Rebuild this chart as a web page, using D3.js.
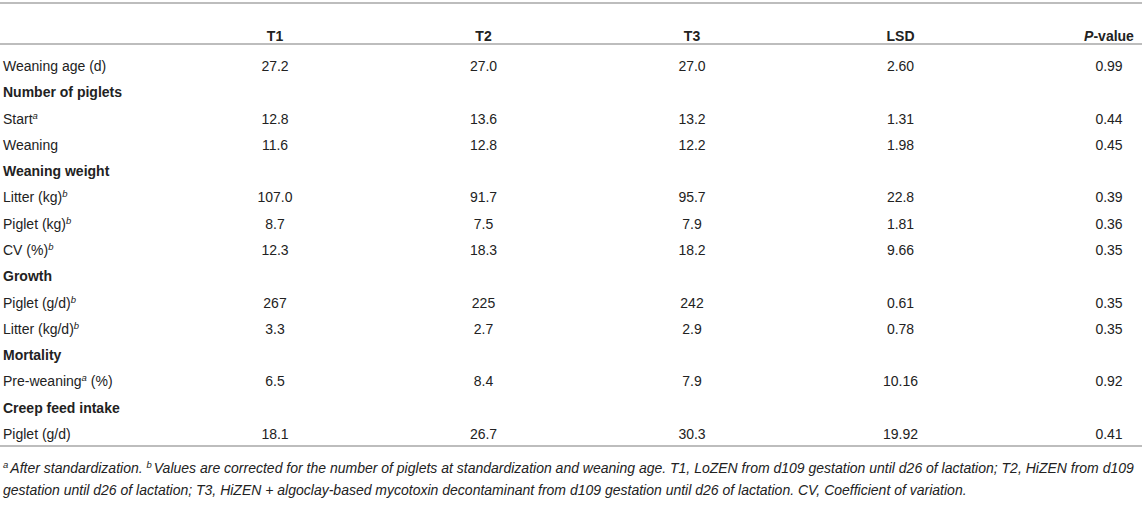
<!DOCTYPE html>
<html>
<head>
<meta charset="utf-8">
<script src="https://cdn.jsdelivr.net/npm/d3@7"></script>
<style>
  body { margin: 0; background: #fff; }
  svg { display: block; font-family: "Liberation Sans", Arial, Helvetica, sans-serif; }
</style>
</head>
<body>
<div id="table"></div>
<script>
// columns and rows of the table
const columns = ["T1", "T2", "T3", "LSD", "P-value"];
const rowLabels = [
  "Weaning age (d)", "Number of piglets", "Start^a", "Weaning",
  "Weaning weight", "Litter (kg)^b", "Piglet (kg)^b", "CV (%)^b",
  "Growth", "Piglet (g/d)^b", "Litter (kg/d)^b", "Mortality",
  "Pre-weaning^a (%)", "Creep feed intake", "Piglet (g/d)"
];
const groupRows = [false, true, false, false, true, false, false, false, true, false, false, true, false, true, false];

// values (null = group heading row)
const t1 = ["27.2", null, "12.8", "11.6", null, "107.0", "8.7", "12.3", null, "267", "3.3", null, "6.5", null, "18.1"];
const t2 = ["27.0", null, "13.6", "12.8", null, "91.7", "7.5", "18.3", null, "225", "2.7", null, "8.4", null, "26.7"];
const t3 = ["27.0", null, "13.2", "12.2", null, "95.7", "7.9", "18.2", null, "242", "2.9", null, "7.9", null, "30.3"];
const lsd = ["2.60", null, "1.31", "1.98", null, "22.8", "1.81", "9.66", null, "0.61", "0.78", null, "10.16", null, "19.92"];
const pValues = ["0.99", null, "0.44", "0.45", null, "0.39", "0.36", "0.35", null, "0.35", "0.35", null, "0.92", null, "0.41"];

const footnote1 = [["a", true], ["After standardization. ", false], ["b", true],
  ["Values are corrected for the number of piglets at standardization and weaning age. T1, LoZEN from d109 gestation until d26 of lactation; T2, HiZEN from d109", false]];
const footnote2 = [["gestation until d26 of lactation; T3, HiZEN + algoclay-based mycotoxin decontaminant from d109 gestation until d26 of lactation. CV, Coefficient of variation.", false]];

const width = 1142;
const height = 507;
const fontSize = 14;
const textColor = "#222";
const ruleColor = "#bdbdbd";

const svg = d3.select("#table")
  .append("svg")
    .attr("width", width)
    .attr("height", height);

svg.append("rect").attr("width", width).attr("height", height).attr("fill", "#fff");

// x positions of column centres
const x = d3.scalePoint()
  .domain(columns)
  .range([275, 1109]);

// y positions of rows (text baselines)
const y = d3.scaleLinear()
  .domain([0, rowLabels.length - 1])
  .range([71, 439]);

// horizontal rules
svg.selectAll("line.rule")
  .data([3, 44, 446])
  .enter()
  .append("line")
    .attr("class", "rule")
    .attr("x1", 0)
    .attr("x2", width)
    .attr("y1", d => d)
    .attr("y2", d => d)
    .attr("stroke", ruleColor)
    .attr("stroke-width", 2);

// header
const header = svg.selectAll("text.head")
  .data(columns)
  .enter()
  .append("text")
    .attr("class", "head")
    .attr("x", d => x(d))
    .attr("y", 41)
    .attr("text-anchor", "middle")
    .attr("font-size", fontSize)
    .attr("font-weight", "bold")
    .attr("fill", textColor);

header.each(function(d) {
  const t = d3.select(this);
  if (d === "P-value") {
    t.append("tspan").attr("font-style", "italic").text("P");
    t.append("tspan").text("-value");
  } else {
    t.text(d);
  }
});

// row labels, with ^x marking a superscript
svg.selectAll("text.label")
  .data(rowLabels)
  .enter()
  .append("text")
    .attr("class", "label")
    .attr("x", 3)
    .attr("y", (d, i) => y(i))
    .attr("font-size", fontSize)
    .attr("font-weight", (d, i) => groupRows[i] ? "bold" : "normal")
    .attr("fill", textColor)
    .each(function(d) {
      const t = d3.select(this);
      const m = d.match(/^([^^]*)(?:\^(\w))?(.*)$/);
      t.append("tspan").text(m[1]);
      if (m[2]) {
        t.append("tspan")
          .attr("font-size", 9.5)
          .attr("font-style", "italic")
          .attr("dy", -5)
          .text(m[2]);
        if (m[3]) t.append("tspan").attr("dy", 5).text(m[3]);
      }
    });

// cell values
const table = [t1, t2, t3, lsd, pValues];
columns.forEach((col, c) => {
  const cells = table[c]
    .map((v, i) => ({v: v, row: i}))
    .filter(d => d.v !== null);
  svg.selectAll("text.cell-" + c)
    .data(cells)
    .enter()
    .append("text")
      .attr("class", "cell-" + c)
      .attr("x", x(col))
      .attr("y", d => y(d.row))
      .attr("text-anchor", "middle")
      .attr("font-size", fontSize)
      .attr("fill", textColor)
      .text(d => d.v);
});

// footnotes
function footnote(parts, yy) {
  const t = svg.append("text")
    .attr("x", 3)
    .attr("y", yy)
    .attr("font-size", fontSize)
    .attr("font-style", "italic")
    .attr("fill", textColor);
  let raised = false;
  parts.forEach(([s, sup]) => {
    const ts = t.append("tspan").text(s);
    if (sup) {
      ts.attr("font-size", 9.5).attr("dy", raised ? 0 : -5);
      raised = true;
    } else if (raised) {
      ts.attr("dy", 5).attr("dx", 2);
      raised = false;
    }
  });
}
footnote(footnote1, 473);
footnote(footnote2, 495);
</script>
</body>
</html>
